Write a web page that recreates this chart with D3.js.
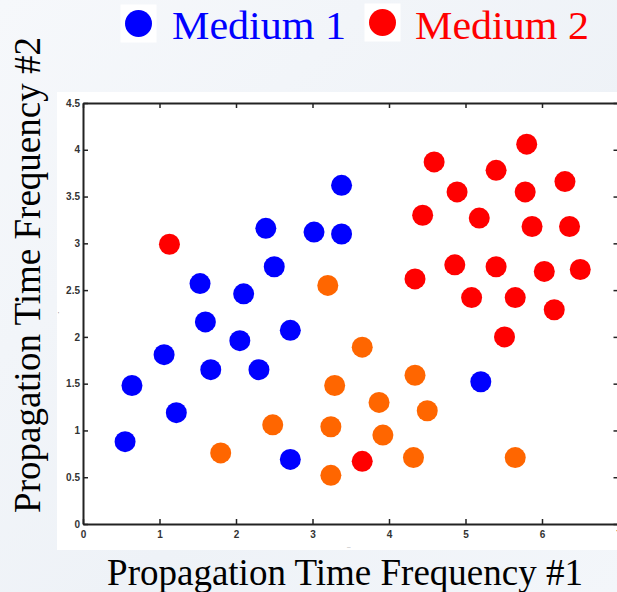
<!DOCTYPE html>
<html>
<head>
<meta charset="utf-8">
<script src="https://cdn.jsdelivr.net/npm/d3@7"></script>
<style>
  body { margin: 0; background: #f2f5f9; }
  svg { display: block; }
</style>
</head>
<body>
<div id="chart"></div>
<script>
// tick values
var xTicks = [0, 1, 2, 3, 4, 5, 6, 7];
var yTicks = [0, 0.5, 1, 1.5, 2, 2.5, 3, 3.5, 4, 4.5];

// Medium 1 (blue)
var medium1X = [0.55, 0.64, 1.06, 1.22, 1.53, 1.60, 1.67, 2.10, 2.05, 2.30, 2.39, 2.50, 2.71, 2.71, 3.02, 3.38, 3.38, 5.20];
var medium1Y = [0.88, 1.48, 1.81, 1.19, 2.57, 2.16, 1.65, 2.46, 1.96, 1.65, 3.16, 2.75, 2.07, 0.69, 3.12, 3.10, 3.62, 1.52];

// Medium 2 (red)
var medium2X = [1.13, 3.65, 4.34, 4.44, 4.59, 4.89, 4.86, 5.08, 5.18, 5.40, 5.40, 5.51, 5.65, 5.80, 5.78, 5.87, 6.03, 6.16, 6.30, 6.36, 6.50];
var medium2Y = [2.99, 0.67, 2.62, 3.30, 3.87, 3.55, 2.77, 2.42, 3.27, 3.78, 2.75, 2.00, 2.42, 4.06, 3.55, 3.18, 2.70, 2.29, 3.66, 3.18, 2.72];

// unlabeled group (orange)
var otherX = [3.20, 3.65, 3.29, 3.87, 3.92, 3.24, 3.24, 2.48, 1.80, 4.34, 4.50, 4.32, 5.65];
var otherY = [2.55, 1.89, 1.48, 1.30, 0.95, 1.04, 0.52, 1.06, 0.76, 1.59, 1.21, 0.71, 0.71];

var legendNames = ["Medium 1", "Medium 2"];
var legendColors = ["#0000ff", "#ff0000"];

var W = 617, H = 592;
var plot = { left: 83, right: 618.5, top: 103, bottom: 524 };

var svg = d3.select("#chart").append("svg")
    .attr("width", W)
    .attr("height", H);

var defs = svg.append("defs");
var grad = defs.append("linearGradient")
    .attr("id", "bg")
    .attr("x1", 0).attr("y1", 0).attr("x2", 1).attr("y2", 1);
grad.append("stop").attr("offset", "0%").attr("stop-color", "#f6f8fb");
grad.append("stop").attr("offset", "60%").attr("stop-color", "#eef2f7");
grad.append("stop").attr("offset", "100%").attr("stop-color", "#f3f6fa");

svg.append("rect")
    .attr("width", W).attr("height", H)
    .attr("fill", "url(#bg)");

// white figure area
svg.append("rect")
    .attr("x", 57).attr("y", 92)
    .attr("width", W - 57).attr("height", 550 - 92)
    .attr("fill", "#ffffff");

var x = d3.scaleLinear()
    .domain([0, 7])
    .range([plot.left, plot.right]);

var y = d3.scaleLinear()
    .domain([0, 4.5])
    .range([plot.bottom, plot.top]);

function styleAxis(g) {
    g.select(".domain").attr("stroke", "#222").attr("stroke-width", 2);
    g.selectAll(".tick line").attr("stroke", "#222").attr("stroke-width", 1.5);
    g.selectAll(".tick text")
        .attr("fill", "#333")
        .style("font-family", "'Liberation Sans', Arial, sans-serif")
        .style("font-size", "10px")
        .style("font-weight", "bold");
}

// bottom axis
svg.append("g")
    .attr("transform", "translate(0," + plot.bottom + ")")
    .call(d3.axisBottom(x).tickValues(xTicks).tickFormat(d3.format("d"))
        .tickSizeInner(-5).tickSizeOuter(0).tickPadding(7))
    .call(styleAxis);

// top axis (box)
svg.append("g")
    .attr("transform", "translate(0," + plot.top + ")")
    .call(d3.axisTop(x).tickValues(xTicks).tickFormat("")
        .tickSizeInner(-5).tickSizeOuter(0))
    .call(styleAxis);

// left axis
svg.append("g")
    .attr("transform", "translate(" + plot.left + ",0)")
    .call(d3.axisLeft(y).tickValues(yTicks).tickFormat(d3.format(""))
        .tickSizeInner(-5).tickSizeOuter(0).tickPadding(3))
    .call(styleAxis);

// right axis (box)
svg.append("g")
    .attr("transform", "translate(" + plot.right + ",0)")
    .call(d3.axisRight(y).tickValues(yTicks).tickFormat("")
        .tickSizeInner(-5).tickSizeOuter(0))
    .call(styleAxis);

// tiny leftover axis-name marks
svg.append("text").attr("x", 58).attr("y", 316)
    .attr("font-size", 6).attr("fill", "#666").text("'");
svg.append("text").attr("x", 347).attr("y", 549)
    .attr("font-size", 7).attr("fill", "#888").text("–");

var R = 10.5;

function drawPoints(xs, ys, color) {
    var pts = xs.map(function(d, i) { return { x: d, y: ys[i] }; });
    svg.append("g").selectAll("circle")
        .data(pts)
        .enter().append("circle")
        .attr("cx", function(d) { return x(d.x); })
        .attr("cy", function(d) { return y(d.y); })
        .attr("r", R)
        .attr("fill", color);
}

drawPoints(otherX, otherY, "#ff6600");
drawPoints(medium1X, medium1Y, "#0000ff");
drawPoints(medium2X, medium2Y, "#ff0000");

// legend
var legendPos = [{ cx: 138.5, cy: 23.5, tx: 172 }, { cx: 382.5, cy: 22.5, tx: 415 }];
var legend = svg.append("g");
legendNames.forEach(function(name, i) {
    var p = legendPos[i];
    legend.append("rect")
        .attr("x", p.cx - 18).attr("y", p.cy - 19)
        .attr("width", 36).attr("height", 38)
        .attr("fill", "#ffffff");
    legend.append("circle")
        .attr("cx", p.cx).attr("cy", p.cy)
        .attr("r", 13.5)
        .attr("fill", legendColors[i]);
    legend.append("text")
        .attr("x", p.tx).attr("y", 39)
        .attr("fill", legendColors[i])
        .style("font-family", "'Liberation Serif', 'Times New Roman', serif")
        .style("font-size", "41px")
        .attr("textLength", 174)
        .attr("lengthAdjust", "spacingAndGlyphs")
        .text(name);
});

// axis titles
svg.append("text")
    .attr("x", 345).attr("y", 585)
    .attr("text-anchor", "middle")
    .attr("fill", "#000")
    .style("font-family", "'Liberation Serif', 'Times New Roman', serif")
    .style("font-size", "37px")
    .text("Propagation Time Frequency #1");

svg.append("text")
    .attr("transform", "translate(40,275) rotate(-90)")
    .attr("text-anchor", "middle")
    .attr("fill", "#000")
    .style("font-family", "'Liberation Serif', 'Times New Roman', serif")
    .style("font-size", "37px")
    .text("Propagation Time Frequency #2");
</script>
</body>
</html>
